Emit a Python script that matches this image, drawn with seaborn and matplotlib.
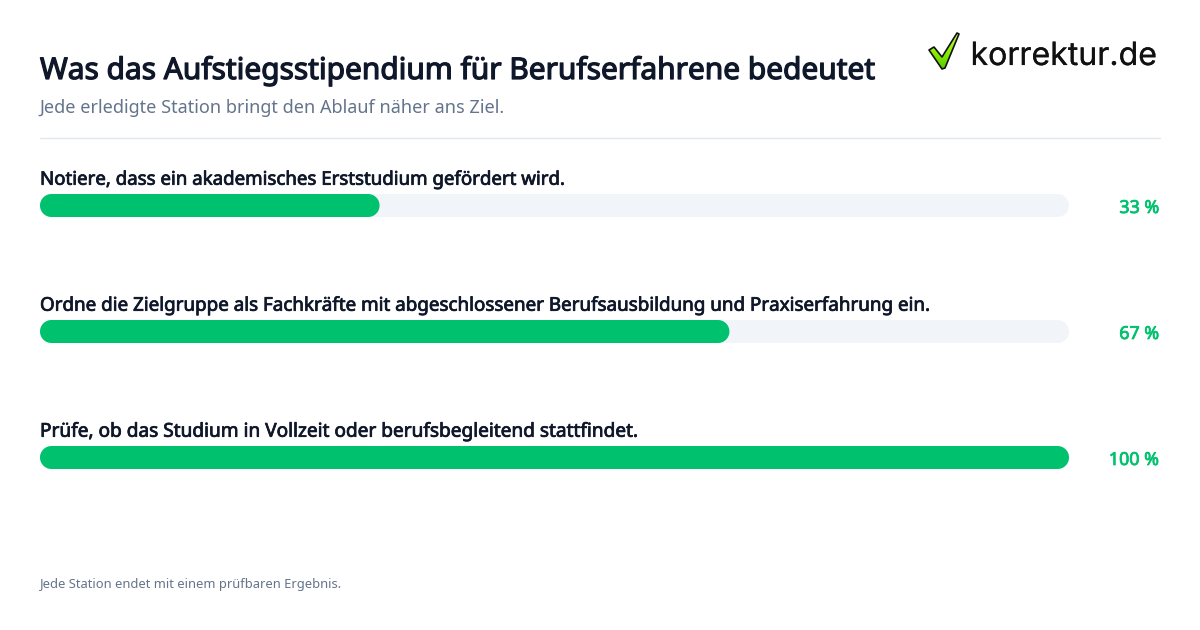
import numpy as np
import pandas as pd
import matplotlib
matplotlib.use("Agg")
import matplotlib.pyplot as plt
import matplotlib.patheffects as pe
from matplotlib.patches import Polygon
import seaborn as sns

steps = [
    "Notiere, dass ein akademisches Erststudium gefördert wird.",
    "Ordne die Zielgruppe als Fachkräfte mit abgeschlossener Berufsausbildung und Praxiserfahrung ein.",
    "Prüfe, ob das Studium in Vollzeit oder berufsbegleitend stattfindet.",
]
progress = [33, 67, 100]
track = [100, 100, 100]
value_labels = ["33 %", "67 %", "100 %"]
title = "Was das Aufstiegsstipendium für Berufserfahrene bedeutet"
subtitle = "Jede erledigte Station bringt den Ablauf näher ans Ziel."
footer = "Jede Station endet mit einem prüfbaren Ergebnis."
logo_text = "korrektur.de"

W, H = 1200, 630
INK, MUTED = "#0f172a", "#64748b"
GREEN, TRACK, RULE = "#00c26e", "#f1f5f9", "#e2e8f0"
label_sizes = [13.45, 13.54, 13.72]

sns.set_theme(style="white")
plt.rcParams["font.family"] = ["Noto Sans", "DejaVu Sans"]
fig = plt.figure(figsize=(12, 6.3), dpi=100, facecolor="white")

def heavy(color, lw):
    return [pe.withStroke(linewidth=lw, foreground=color)]

def px_text(x, y, s, **kw):
    return fig.text(x / W, 1 - y / H, s, va="baseline", **kw)

ax = fig.add_axes([40 / W, 1 - 520.5 / H, 1029 / W, 378 / H])
df = pd.DataFrame({"step": steps, "progress": progress, "track": track})
bar_w = 23 / 126
sns.barplot(data=df, y="step", x="track", color=TRACK, width=bar_w, saturation=1, ax=ax)
sns.barplot(data=df, y="step", x="progress", color=GREEN, width=bar_w, saturation=1, ax=ax)
ax.set_xlim(0, 100)
ax.set_ylim(2.5, -0.5)
ax.axis("off")

# replace each bar by a pill with circular ends, from the geometry the library computed
rx = 11.5 / (1029 / 100)
t = np.linspace(-np.pi / 2, np.pi / 2, 40)
for p in list(ax.patches):
    x0, y0, w, h = p.get_x(), p.get_y(), p.get_width(), p.get_height()
    yc = y0 + h / 2
    right = np.column_stack([x0 + w - rx + rx * np.cos(t), yc + h / 2 * np.sin(t)])
    left = np.column_stack([x0 + rx - rx * np.cos(t[::-1]), yc + h / 2 * np.sin(t[::-1])])
    pill = Polygon(np.vstack([right, left]), closed=True, fc=p.get_facecolor(), ec="none",
                   clip_on=False, zorder=p.get_zorder())
    p.remove()
    ax.add_patch(pill)

for i, (s, v, vl) in enumerate(zip(steps, progress, value_labels)):
    ax.annotate(s, (0, i), xytext=(0, 20.8), textcoords="offset pixels",
                fontsize=label_sizes[i], color=INK, va="baseline", ha="left",
                annotation_clip=False, path_effects=heavy(INK, 0.55))
    ax.annotate(vl, (100, i), xytext=(90, -7.5), textcoords="offset pixels",
                fontsize=12.85, color=GREEN, va="baseline", ha="right",
                annotation_clip=False, path_effects=heavy(GREEN, 0.55))

px_text(40, 79, title, fontsize=21.5, color=INK, path_effects=heavy(INK, 0.9))
px_text(39.5, 113, subtitle, fontsize=13.0, color=MUTED)
px_text(40, 588, footer, fontsize=9.3, color=MUTED)
fig.add_artist(plt.Line2D([40 / W, 1160 / W], [1 - 138 / H] * 2, color=RULE, lw=1))

# logo
px_text(970.5, 65, logo_text, fontsize=23.1, color="#111111", family="Inter",
        path_effects=heavy("#111111", 0.12))
ov = fig.add_axes([0, 0, 1, 1], facecolor="none")
ov.set_xlim(0, W); ov.set_ylim(H, 0); ov.axis("off")
check = [(929, 50), (934, 47), (942, 57), (957, 33), (959, 34), (945, 68), (942, 69)]
grad = np.linspace(0, 1, 64).reshape(-1, 1)
cmap = matplotlib.colors.LinearSegmentedColormap.from_list("g", ["#4fc400", "#8cf000", "#c8f86a"])
im = ov.imshow(grad, extent=(925, 962, 72, 31), cmap=cmap, aspect="auto", origin="lower", zorder=2)
ov.set_xlim(0, W); ov.set_ylim(H, 0)
poly = Polygon(check, closed=True, fc="none", ec="#111111", lw=1.2, joinstyle="round", zorder=3)
ov.add_patch(poly)
im.set_clip_path(poly)

fig.savefig("out.png", dpi=100, facecolor="white")
